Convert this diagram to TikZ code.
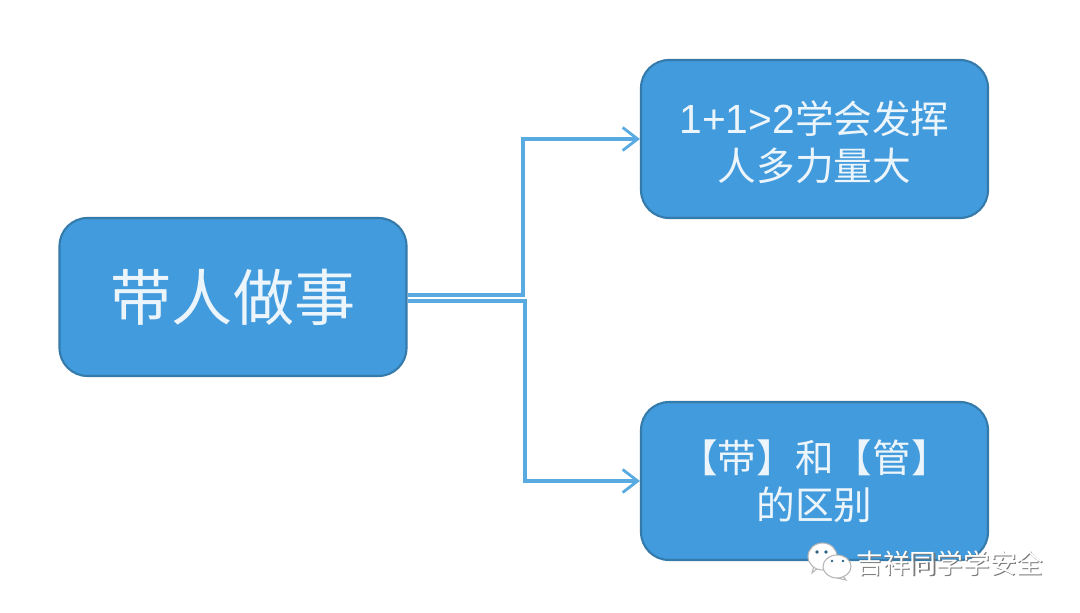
\documentclass[tikz,border=0pt]{standalone}
\usepackage{fontspec}
\setmainfont{Liberation Sans}
\newfontfamily\cjk{Noto Sans CJK SC}
\usetikzlibrary{arrows.meta}
\definecolor{boxblue}{RGB}{66,155,220}
\definecolor{boxedge}{RGB}{52,122,170}
\definecolor{linkblue}{RGB}{90,170,226}
\definecolor{markgray}{RGB}{120,120,120}
\tikzset{
  topicbox/.style={draw=boxedge, line width=0.6pt, fill=boxblue, rounded corners=0.28cm,
    minimum width=3.47cm, minimum height=1.58cm, inner sep=0pt, align=center,
    text=white!90!boxblue, font=\cjk\fontsize{11}{13.4}\selectfont},
  link/.style={draw=linkblue, line width=0.9pt},
  tiplink/.style={link, -{Straight Barb[length=1.5mm,width=2.3mm,line width=0.8pt]}},
  bubble/.style={draw=markgray!55, line width=0.3pt, fill=white},
  bubbledot/.style={fill=boxedge!80!black, draw=none}
}
\begin{document}
\begin{tikzpicture}
\useasboundingbox (0,0) rectangle (10.8,6.12);

\node [topicbox, font=\cjk\fontsize{17.4}{20}\selectfont] (main) at (2.33,3.15) {带人做事};
\node [topicbox] (upper) at (8.145,4.73) {\rule{0pt}{11.2pt}{\fontspec{Liberation Sans}\fontsize{11.6}{13.4}\selectfont 1+1>2}学会发挥\\人多力量大};
\node [topicbox] (lower) at (8.145,1.31) {【带】和【管】\\的区别};

\coordinate (bendup) at (5.23,3.17);
\coordinate (benddown) at (5.25,3.11);

\draw [tiplink] (main.east |- bendup) -- (bendup) |- (upper.west);
\draw [tiplink] (main.east |- benddown) -- (benddown) |- (lower.west);

% watermark
\draw [bubble] (8.2,0.46) -- (8.12,0.39) -- (8.15,0.5);
\draw [bubble] (8.225,0.555) ellipse [x radius=0.145, y radius=0.135];
\fill [bubbledot] (8.17,0.6) circle [radius=0.018];
\fill [bubbledot] (8.26,0.6) circle [radius=0.018];
\draw [bubble] (8.43,0.36) -- (8.46,0.32) -- (8.37,0.34);
\draw [bubble] (8.37,0.455) ellipse [x radius=0.14, y radius=0.115];
\fill [bubbledot] (8.32,0.51) circle [radius=0.014];
\fill [bubbledot] (8.43,0.51) circle [radius=0.014];
\node [text=markgray, font=\cjk\fontsize{7.6}{9}\selectfont, inner sep=0pt] (markshadow) at (9.512,0.475) {吉祥同学学安全};
\node [text=white, font=\cjk\fontsize{7.6}{9}\selectfont, inner sep=0pt] (marktext) at (9.5,0.485) {吉祥同学学安全};
\end{tikzpicture}
\end{document}
